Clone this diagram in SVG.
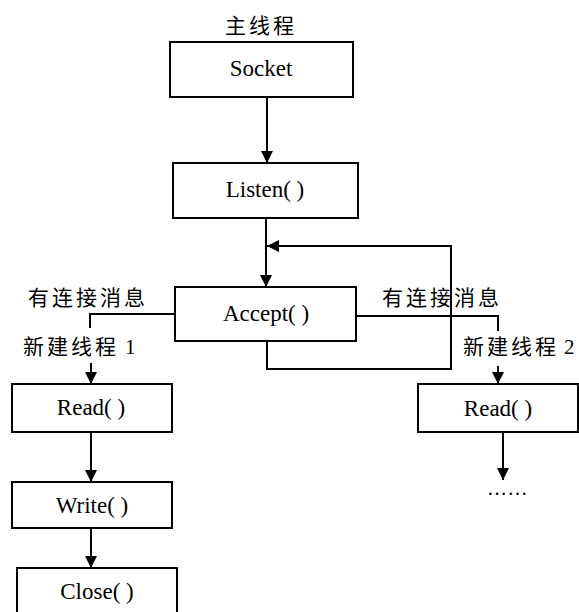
<svg xmlns="http://www.w3.org/2000/svg" width="579" height="612" viewBox="0 0 579 612">
<style>
.box{fill:#fff;stroke:#000;stroke-width:2}
.t{font-family:"Liberation Serif","Times New Roman",serif;font-size:23px;text-anchor:middle;fill:#000}
.cn{font-family:"Liberation Serif","Noto Sans CJK SC",sans-serif;font-size:21px;letter-spacing:3px;fill:#000}
.num{letter-spacing:0}
.ln{fill:none;stroke:#000;stroke-width:2}
</style>
<defs>
<marker id="ah" markerUnits="userSpaceOnUse" markerWidth="12" markerHeight="12" refX="12" refY="6" orient="auto">
<path d="M0,0 L12,6 L0,12 Z" fill="#000"/>
</marker>
</defs>
<rect width="579" height="612" fill="#fff"/>
<g id="connectors">
<line class="ln" x1="267" y1="97" x2="267" y2="163" marker-end="url(#ah)"/>
<line class="ln" x1="266" y1="218" x2="266" y2="287" marker-end="url(#ah)"/>
<polyline class="ln" points="267,341 267,369 451,369 451,246 267,246" marker-end="url(#ah)"/>
<polyline class="ln" points="175,314 90,314 90,328"/>
<line class="ln" x1="91" y1="363" x2="91" y2="384" marker-end="url(#ah)"/>
<polyline class="ln" points="356,316 498,316 498,331"/>
<line class="ln" x1="498" y1="366" x2="498" y2="384" marker-end="url(#ah)"/>
<line class="ln" x1="91" y1="432" x2="91" y2="482" marker-end="url(#ah)"/>
<line class="ln" x1="91" y1="528" x2="91" y2="568" marker-end="url(#ah)"/>
<line class="ln" x1="503" y1="432" x2="503" y2="480" marker-end="url(#ah)"/>
</g>
<g id="labels">
<text class="cn" x="225" y="33">主线程</text>
<text class="cn" x="28" y="305">有连接消息</text>
<text class="cn" x="23" y="354">新建线程<tspan class="num" x="125">1</tspan></text>
<text class="cn" x="382" y="305">有连接消息</text>
<text class="cn" x="463" y="354">新建线程<tspan class="num" x="564">2</tspan></text>
<text x="487" y="495" style="font-family:'Liberation Serif',serif;font-size:20px;letter-spacing:0.5px">……</text>
</g>
<g id="socket"><rect class="box" x="170" y="42" width="183" height="55"/><text class="t" x="261" y="76">Socket</text></g>
<g id="listen"><rect class="box" x="173" y="163" width="185" height="55"/><text class="t" x="265" y="197">Listen( )</text></g>
<g id="accept"><rect class="box" x="175" y="287" width="181" height="54"/><text class="t" x="266" y="321">Accept( )</text></g>
<g id="read1"><rect class="box" x="12" y="384" width="160" height="48"/><text class="t" x="91" y="415">Read( )</text></g>
<g id="write"><rect class="box" x="12" y="482" width="160" height="46"/><text class="t" x="92" y="513">Write( )</text></g>
<g id="close"><rect class="box" x="17" y="568" width="160" height="50"/><text class="t" x="97" y="599">Close( )</text></g>
<g id="read2"><rect class="box" x="418" y="384" width="160" height="48"/><text class="t" x="498" y="416">Read( )</text></g>
</svg>
